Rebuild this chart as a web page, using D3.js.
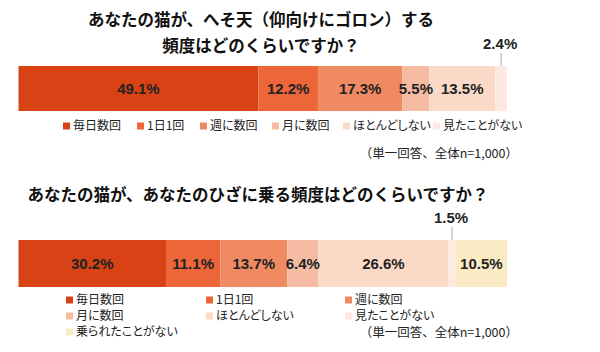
<!DOCTYPE html>
<head>
  <meta charset="utf-8">
  <script src="https://cdn.jsdelivr.net/npm/d3@7"></script>
  <style>
    body { margin: 0; background: #fff; }
    .title { font-family: "Noto Sans CJK JP", sans-serif; font-weight: 700; font-size: 16.5px; fill: #111; }
    .val { font-family: "Liberation Sans", Arial, sans-serif; font-weight: 700; font-size: 15px; fill: #222; }
    .leg { font-family: "Noto Sans CJK JP", sans-serif; font-size: 12px; fill: #222; font-feature-settings: "palt"; }
    .note { font-family: "Noto Sans CJK JP", sans-serif; font-size: 12.5px; fill: #222; }
  </style>
</head>
<body>
<svg id="chart"></svg>
<script>
  var width = 600, height = 352;

  // categories and colours
  var cats1 = ["毎日数回", "1日1回", "週に数回", "月に数回", "ほとんどしない", "見たことがない"];
  var cats2 = ["毎日数回", "1日1回", "週に数回", "月に数回", "ほとんどしない", "見たことがない", "乗られたことがない"];
  var colors = ["#d84214", "#ec663a", "#f08a63", "#f5bba3", "#fbd9c7", "#fde9e1", "#fbebc4"];

  // values (%)
  var heso = [49.1, 12.2, 17.3, 5.5, 13.5, 2.4];
  var hiza = [30.2, 11.1, 13.7, 6.4, 26.6, 1.5, 10.5];

  var title1 = ["あなたの猫が、へそ天（仰向けにゴロン）する", "頻度はどのくらいですか？"];
  var title2 = ["あなたの猫が、あなたのひざに乗る頻度はどのくらいですか？"];
  var note = "（単一回答、全体n=1,000）";

  var svg = d3.select("#chart").attr("width", width).attr("height", height);

  var x = d3.scaleLinear().domain([0, 100]).range([18.5, 507]);
  var color = d3.scaleOrdinal().domain(cats2).range(colors);

  function drawBar(vals, cats, y0, h, labelY) {
    var ends = d3.cumsum(vals);
    var segs = vals.map(function(v, i) { return { v: v, cat: cats[i], s: ends[i] - v, e: ends[i] }; });
    var g = svg.append("g");
    g.selectAll("rect").data(segs).enter().append("rect")
      .attr("x", d => x(d.s))
      .attr("width", d => x(d.e) - x(d.s))
      .attr("y", y0)
      .attr("height", h)
      .attr("fill", d => color(d.cat));
    // labels inside
    g.selectAll("text.val").data(segs.filter(d => d.v >= 3)).enter().append("text")
      .attr("class", "val")
      .attr("x", d => x((d.s + d.e) / 2))
      .attr("y", y0 + h / 2)
      .attr("dy", "0.36em")
      .attr("text-anchor", "middle")
      .text(d => d.v.toFixed(1) + "%");
    // small ones above with leader line
    var small = segs.filter(d => d.v < 3);
    g.selectAll("line.lead").data(small).enter().append("line")
      .attr("x1", d => x((d.s + d.e) / 2)).attr("x2", d => x((d.s + d.e) / 2))
      .attr("y1", labelY + 9).attr("y2", y0)
      .attr("stroke", "#aaa").attr("stroke-width", 1);
    g.selectAll("text.out").data(small).enter().append("text")
      .attr("class", "val")
      .attr("x", d => x((d.s + d.e) / 2) - 1)
      .attr("y", labelY)
      .attr("dy", "0.36em")
      .attr("text-anchor", "middle")
      .text(d => d.v.toFixed(1) + "%");
  }

  // titles
  svg.selectAll("text.t1").data(title1).enter().append("text")
    .attr("class", "title")
    .attr("x", 261).attr("y", (d, i) => 20 + i * 26)
    .attr("dy", "0.36em").attr("text-anchor", "middle").text(d => d);
  svg.selectAll("text.t2").data(title2).enter().append("text")
    .attr("class", "title")
    .attr("x", 258).attr("y", 195)
    .attr("dy", "0.36em").attr("text-anchor", "middle").text(d => d);

  drawBar(heso, cats1, 66, 45, 44);
  drawBar(hiza, cats2, 240, 47, 218);

  // legend 1: single row
  var leg1X = [63, 137, 200, 272, 343, 433];
  var items = svg.append("g").selectAll("g").data(cats1).enter().append("g")
    .attr("transform", (d, i) => "translate(" + leg1X[i] + ",126)");
  items.append("rect").attr("width", 7).attr("height", 7).attr("y", -3.5).attr("fill", d => color(d));
  items.append("text").attr("class", "leg").attr("x", 10).attr("dy", "0.36em").text(d => d);

  // legend 2: 3 column grid
  var leg2X = [66, 206, 345];
  var lg2 = svg.append("g").selectAll("g").data(cats2).enter().append("g")
    .attr("transform", (d, i) => "translate(" + leg2X[i % 3] + "," + (300 + Math.floor(i / 3) * 16) + ")");
  lg2.append("rect").attr("width", 7).attr("height", 7).attr("y", -3.5).attr("fill", d => color(d));
  lg2.append("text").attr("class", "leg").attr("x", 10).attr("dy", "0.36em").text(d => d);

  // notes
  [153, 332].forEach(function(y) {
    svg.append("text").attr("class", "note")
      .attr("x", 518).attr("y", y).attr("dy", "0.36em")
      .attr("text-anchor", "end").text(note);
  });
</script>
</body>
